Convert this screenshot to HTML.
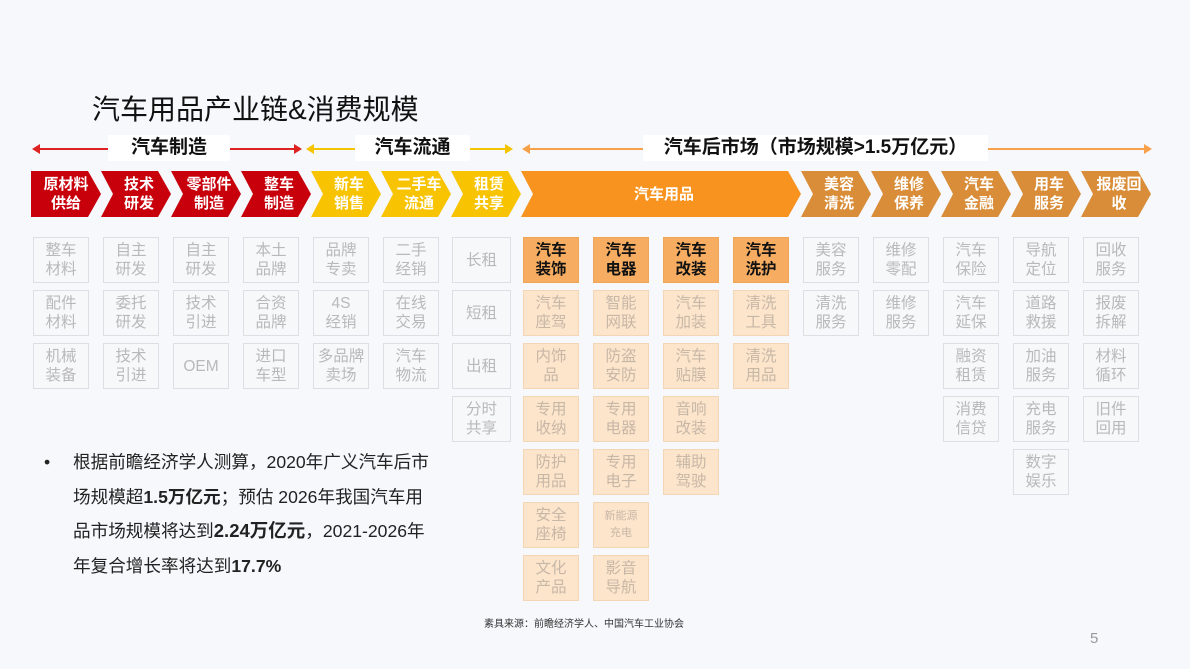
<!DOCTYPE html>
<html><head><meta charset="utf-8">
<style>
body{margin:0;width:1190px;height:669px;background:#f6f8fb;font-family:"Liberation Sans","Noto Sans CJK SC",sans-serif;position:relative;overflow:hidden}
.abs{position:absolute}
.box{position:absolute;width:56px;height:46px;box-sizing:border-box;border:1px solid #dcdfe3;color:#b9b9b9;font-size:15.5px;line-height:19px;display:flex;align-items:center;justify-content:center;text-align:center;background:#f7f8fa}
.box.hi{background:#f6ad62;border-color:#f0a558;color:#111;font-weight:bold}
.box.lt{background:#fde5cb;border-color:#f3d6b5;color:#c7b7a7}
.chev{position:absolute;top:171px;height:46px;color:#fff;font-weight:bold;font-size:15px;line-height:19px;display:flex;align-items:center;justify-content:center;text-align:center}
.hdr{position:absolute;top:135px;height:26px;background:#fff;font-weight:bold;font-size:19px;line-height:26px;text-align:center;color:#111}
.line{position:absolute;height:2px}
</style></head><body>
<div class="abs" style="left:92px;top:88px;font-size:28px;color:#111">汽车用品产业链&amp;消费规模</div>

<div class="line" style="left:38px;top:148px;width:262px;background:#d22"></div>
<div class="abs" style="left:32px;top:144px;width:0;height:0;border-top:5px solid transparent;border-bottom:5px solid transparent;border-right:8px solid #d22"></div>
<div class="abs" style="left:294px;top:144px;width:0;height:0;border-top:5px solid transparent;border-bottom:5px solid transparent;border-left:8px solid #d22"></div>
<div class="hdr" style="left:108px;width:122px">汽车制造</div>

<div class="line" style="left:312px;top:148px;width:195px;background:#f5c400"></div>
<div class="abs" style="left:306px;top:144px;border-top:5px solid transparent;border-bottom:5px solid transparent;border-right:8px solid #f5c400"></div>
<div class="abs" style="left:505px;top:144px;border-top:5px solid transparent;border-bottom:5px solid transparent;border-left:8px solid #f5c400"></div>
<div class="hdr" style="left:355px;width:115px">汽车流通</div>

<div class="line" style="left:528px;top:148px;width:616px;background:#f7a24a"></div>
<div class="abs" style="left:522px;top:144px;border-top:5px solid transparent;border-bottom:5px solid transparent;border-right:8px solid #f7a24a"></div>
<div class="abs" style="left:1144px;top:144px;border-top:5px solid transparent;border-bottom:5px solid transparent;border-left:8px solid #f7a24a"></div>
<div class="hdr" style="left:643px;width:345px">汽车后市场（市场规模&gt;1.5万亿元）</div>

<div id="chevs"></div>
<div id="grid"></div>

<div class="abs" style="left:44px;top:445px;width:420px;font-size:17.6px;line-height:34.5px;color:#222;white-space:nowrap">
<span style="position:absolute;left:0;top:0">•</span>
<div style="margin-left:29px">根据前瞻经济学人测算，2020年广义汽车后市<br>场规模超<b>1.5万亿元</b>；预估 2026年我国汽车用<br>品市场规模将达到<b style="font-size:18.5px">2.24万亿元</b>，2021-2026年<br>年复合增长率将达到<b>17.7%</b></div>
</div>
<div class="abs" style="left:484px;top:615px;font-size:10px;color:#333">素具来源：前瞻经济学人、中国汽车工业协会</div>
<div class="abs" style="left:1090px;top:630px;font-size:15px;color:#999">5</div>

<script>
const chevLabels=["原材料<br>供给","技术<br>研发","零部件<br>制造","整车<br>制造","新车<br>销售","二手车<br>流通","租赁<br>共享","汽车用品","美容<br>清洗","维修<br>保养","汽车<br>金融","用车<br>服务","报废回<br>收"];
const chevColors=["#c8000b","#c8000b","#c8000b","#c8000b","#f8c300","#f8c300","#f8c300","#f7931e","#d98d38","#d98d38","#d98d38","#d98d38","#d98d38"];
const chevSpan=[1,1,1,1,1,1,1,4,1,1,1,1,1];
const columns=[
 [["整车<br>材料",""],["配件<br>材料",""],["机械<br>装备",""]],
 [["自主<br>研发",""],["委托<br>研发",""],["技术<br>引进",""]],
 [["自主<br>研发",""],["技术<br>引进",""],["OEM",""]],
 [["本土<br>品牌",""],["合资<br>品牌",""],["进口<br>车型",""]],
 [["品牌<br>专卖",""],["4S<br>经销",""],["多品牌<br>卖场",""]],
 [["二手<br>经销",""],["在线<br>交易",""],["汽车<br>物流",""]],
 [["长租",""],["短租",""],["出租",""],["分时<br>共享",""]],
 [["汽车<br>装饰","hi"],["汽车<br>座驾","lt"],["内饰<br>品","lt"],["专用<br>收纳","lt"],["防护<br>用品","lt"],["安全<br>座椅","lt"],["文化<br>产品","lt"]],
 [["汽车<br>电器","hi"],["智能<br>网联","lt"],["防盗<br>安防","lt"],["专用<br>电器","lt"],["专用<br>电子","lt"],["<span style='font-size:11px;line-height:17px'>新能源<br>充电</span>","lt"],["影音<br>导航","lt"]],
 [["汽车<br>改装","hi"],["汽车<br>加装","lt"],["汽车<br>贴膜","lt"],["音响<br>改装","lt"],["辅助<br>驾驶","lt"]],
 [["汽车<br>洗护","hi"],["清洗<br>工具","lt"],["清洗<br>用品","lt"]],
 [["美容<br>服务",""],["清洗<br>服务",""]],
 [["维修<br>零配",""],["维修<br>服务",""]],
 [["汽车<br>保险",""],["汽车<br>延保",""],["融资<br>租赁",""],["消费<br>信贷",""]],
 [["导航<br>定位",""],["道路<br>救援",""],["加油<br>服务",""],["充电<br>服务",""],["数字<br>娱乐",""]],
 [["回收<br>服务",""],["报废<br>拆解",""],["材料<br>循环",""],["旧件<br>回用",""]]
];
const colX=c=>33+70*c, rowY=r=>237+53*r;
const chevRoot=document.getElementById('chevs');
let col=0;
chevLabels.forEach((lab,i)=>{
  const d=document.createElement('div');
  d.className='chev';
  
  
  const left=colX(col)-2, w=70*chevSpan[i];
  d.style.left=left+'px';d.style.width=(w)+'px';d.style.background=chevColors[i];
  const n=i==0?0:12;
  d.style.clipPath=`polygon(0 0, ${w-13}px 0, ${w}px 50%, ${w-13}px 100%, 0 100%, ${n}px 50%)`;
  d.innerHTML=`<span style="padding-left:${n/2}px">${lab}</span>`;
  chevRoot.appendChild(d);
  col+=chevSpan[i];
});
const grid=document.getElementById('grid');
columns.forEach((items,c)=>{
  items.forEach((it,r)=>{
    const b=document.createElement('div');
    b.className='box '+it[1];
    
    
    b.style.left=colX(c)+(c==6?-1:0)+'px';b.style.top=rowY(r)+'px';
    if(c==6)b.style.width='59px';
    b.innerHTML=it[0];
    grid.appendChild(b);
  });
});
</script>
</body></html>
